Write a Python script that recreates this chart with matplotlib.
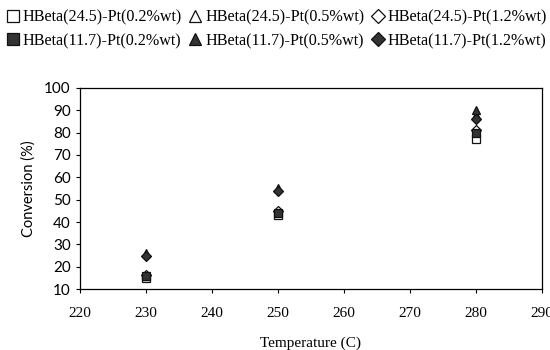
import matplotlib.pyplot as plt
from matplotlib.lines import Line2D

temps = [230, 250, 280]
labels = ['HBeta(24.5)-Pt(0.2%wt)', 'HBeta(24.5)-Pt(0.5%wt)', 'HBeta(24.5)-Pt(1.2%wt)',
          'HBeta(11.7)-Pt(0.2%wt)', 'HBeta(11.7)-Pt(0.5%wt)', 'HBeta(11.7)-Pt(1.2%wt)']
hb245_pt02 = [15, 43, 77]
hb245_pt05 = [16, 45, 88]
hb245_pt12 = [16.5, 45, 81]
hb117_pt02 = [16, 44, 80]
hb117_pt05 = [26, 55, 90]
hb117_pt12 = [25, 54, 86]

series = [hb245_pt02, hb245_pt05, hb245_pt12, hb117_pt02, hb117_pt05, hb117_pt12]
markers = ['s', '^', 'D', 's', '^', 'D']
filled = [False, False, False, True, True, True]

fig = plt.figure(figsize=(5.5, 3.5), dpi=100)
ax = fig.add_axes([0.145, 0.174, 0.84, 0.575])

handles = []
for vals, mk, fl, lab in zip(series, markers, filled, labels):
    ms = 6 if mk != 'D' else 5
    ax.plot(temps, vals, linestyle='none', marker=mk, markersize=ms,
            markerfacecolor='#333333' if fl else 'white',
            markeredgecolor='#111111', markeredgewidth=0.9)
    handles.append(Line2D([], [], linestyle='none', marker=mk, markersize=9 if mk != 'D' else 7,
                          markerfacecolor='#333333' if fl else 'white',
                          markeredgecolor='#111111', markeredgewidth=0.9, label=lab))

# legend fills column-wise, so interleave to get the two rows of the reference
order = [0, 3, 1, 4, 2, 5]
handles = [handles[i] for i in order]

ax.set_xlim(220, 290)
ax.set_ylim(10, 100)
ax.set_xticks(range(220, 291, 10))
ax.set_yticks(range(10, 101, 10))
ax.tick_params(direction='out', length=3, width=0.8)
ax.tick_params(axis='x', pad=10)
for lbl in ax.get_xticklabels():
    lbl.set_family('Liberation Serif')
    lbl.set_fontsize(11)
for lbl in ax.get_yticklabels():
    lbl.set_family('Lato')
    lbl.set_fontsize(11)
for sp in ax.spines.values():
    sp.set_linewidth(0.9)
ax.set_xlabel('Temperature (C)', family='Liberation Serif', fontsize=11, labelpad=12)
ax.set_ylabel('Conversion (%)', family='Lato', fontsize=10.5, labelpad=6)

fig.legend(handles=handles, ncol=3, loc='upper left', bbox_to_anchor=(-0.012, 1.0),
           frameon=False, handletextpad=0.0, columnspacing=0.25, handlelength=1.2,
           labelspacing=0.45, borderaxespad=0.2,
           prop={'family': 'Liberation Serif', 'size': 11.6})

fig.savefig('out.png', dpi=100)
